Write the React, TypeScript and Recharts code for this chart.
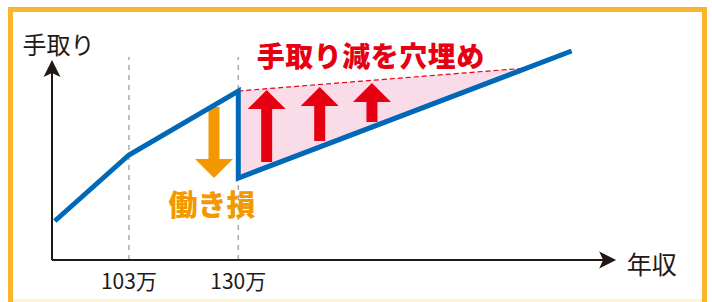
import { Area, ComposedChart, Line, ReferenceDot, ReferenceLine, XAxis, YAxis } from 'recharts'

// 年収 (万円) vs 手取り (arbitrary units)
const takeHome = [
  { x: 84.7, y: 39 },
  { x: 103, y: 105 },
  { x: 130, y: 169 },
  { x: 130, y: 82 },
  { x: 212.3, y: 209 },
]
const gapArea = [
  { x: 130, range: [82, 169] },
  { x: 201.2, range: [192, 192] },
]
const gapTop = [
  { x: 130, y: 169 },
  { x: 201.2, y: 192 },
]
const liftArrows = [
  { x: 137, from: 98, to: 170 },
  { x: 150.1, from: 119, to: 173 },
  { x: 163, from: 138, to: 177 },
]
const lossArrow = { x: 124, from: 153, to: 82 }
const thresholds = [103, 130]
const thresholdLabels = ['103万', '130万']

const BLUE = '#0068b7'
const RED = '#e60012'
const ORANGE = '#f39800'
const PINK = '#fadce9'
const INK = '#231815'
const FONT = '"Noto Sans CJK JP", "Noto Sans", sans-serif'

function BlockArrow(props: any) {
  const { x1, y1, y2, fill } = props
  const dir = y2 < y1 ? 1 : -1 // 1 = pointing up
  const shaft = 5.5
  const head = 19
  const headLen = 19
  const hb = y2 + dir * headLen
  const pts = [
    [x1 - shaft, y1],
    [x1 - shaft, hb],
    [x1 - head, hb],
    [x1, y2],
    [x1 + head, hb],
    [x1 + shaft, hb],
    [x1 + shaft, y1],
  ]
  return <polygon points={pts.map((p) => p.join(',')).join(' ')} fill={fill} />
}

function AxisArrow(props: any) {
  const { x1, y1, x2, y2 } = props
  const vertical = x1 === x2
  let head: number[][]
  if (vertical) {
    head = [
      [x2, y2],
      [x2 + 8.5, y2 + 17],
      [x2, y2 + 13],
      [x2 - 8.5, y2 + 17],
    ]
  } else {
    head = [
      [x2, y2],
      [x2 - 17, y2 - 8.5],
      [x2 - 13, y2],
      [x2 - 17, y2 + 8.5],
    ]
  }
  return (
    <g>
      <line x1={x1} y1={y1} x2={vertical ? x2 : x2 - 10} y2={vertical ? y2 + 10 : y2} stroke={INK} strokeWidth={2} />
      <polygon points={head.map((p) => p.join(',')).join(' ')} fill={INK} />
    </g>
  )
}

function textShape(label: string, color: string, size: number, weight: number, spacing = 0) {
  return (props: any) => (
    <text
      x={props.cx}
      y={props.cy}
      textAnchor="middle"
      dominantBaseline="central"
      fill={color}
      fontSize={size}
      fontWeight={weight}
      fontFamily={FONT}
      letterSpacing={spacing}
    >
      {label}
    </text>
  )
}

export default function App() {
  return (
    <div style={{ position: 'absolute', left: 0, top: 0, width: 712, height: 302, overflow: 'hidden', background: '#fff' }}>
      <div
        style={{
          position: 'absolute',
          left: 8,
          top: 7,
          width: 689,
          height: 310,
          border: '5px solid #f8b62d',
        }}
      />
      <div style={{ position: 'absolute', left: 13, top: 299, width: 689, height: 3, background: '#fff3d6' }} />
      <div style={{ position: 'absolute', left: 0, top: 0 }}>
        <ComposedChart width={712} height={302} margin={{ top: 40, right: 93, bottom: 12, left: 52 }}>
          <XAxis
            type="number"
            dataKey="x"
            domain={[84, 224]}
            ticks={thresholds}
            tickFormatter={(v: number) => thresholdLabels[thresholds.indexOf(v)]}
            axisLine={false}
            tickLine={false}
            tickSize={6}
            tickMargin={8}
            height={30}
            tick={{ fill: INK, fontSize: 21, fontFamily: FONT }}
            allowDataOverflow
          />
          <YAxis type="number" dataKey="y" domain={[0, 220]} hide allowDataOverflow />
          {thresholds.map((t) => (
            <ReferenceLine
              key={t}
              segment={[
                { x: t, y: 0 },
                { x: t, y: 203 },
              ]}
              stroke="#aaaaaa"
              strokeWidth={1.5}
              strokeDasharray="5 5"
            />
          ))}
          <Area
            data={gapArea}
            dataKey="range"
            type="linear"
            fill={PINK}
            fillOpacity={1}
            stroke="none"
            isAnimationActive={false}
          />
          <Line
            data={gapTop}
            dataKey="y"
            type="linear"
            stroke={RED}
            strokeWidth={1.2}
            strokeDasharray="5 3"
            dot={false}
            isAnimationActive={false}
          />
          {liftArrows.map((a) => (
            <ReferenceLine
              key={a.x}
              segment={[
                { x: a.x, y: a.from },
                { x: a.x, y: a.to },
              ]}
              fill={RED}
              shape={(p: any) => <BlockArrow {...p} fill={RED} />}
            />
          ))}
          <ReferenceLine
            segment={[
              { x: lossArrow.x, y: lossArrow.from },
              { x: lossArrow.x, y: lossArrow.to },
            ]}
            shape={(p: any) => <BlockArrow {...p} fill={ORANGE} />}
          />
          <Line
            data={takeHome}
            dataKey="y"
            type="linear"
            stroke={BLUE}
            strokeWidth={5}
            strokeLinejoin="miter"
            dot={false}
            isAnimationActive={false}
          />
          <ReferenceLine
            segment={[
              { x: 84, y: 0 },
              { x: 84, y: 200 },
            ]}
            shape={(p: any) => <AxisArrow {...p} />}
          />
          <ReferenceLine
            segment={[
              { x: 84, y: 0 },
              { x: 223.3, y: 0 },
            ]}
            shape={(p: any) => <AxisArrow {...p} />}
          />
          <ReferenceDot x={85.6} y={217} r={0} shape={textShape('手取り', INK, 24, 400)} />
          <ReferenceDot x={232.1} y={-3} r={0} ifOverflow="visible" shape={textShape('年収', INK, 25, 400)} />
          <ReferenceDot x={162.7} y={205} r={0} shape={textShape('手取り減を穴埋め', RED, 28, 900, 0.5)} />
          <ReferenceDot x={123.5} y={57} r={0} shape={textShape('働き損', ORANGE, 29, 900)} />
        </ComposedChart>
      </div>
    </div>
  )
}
